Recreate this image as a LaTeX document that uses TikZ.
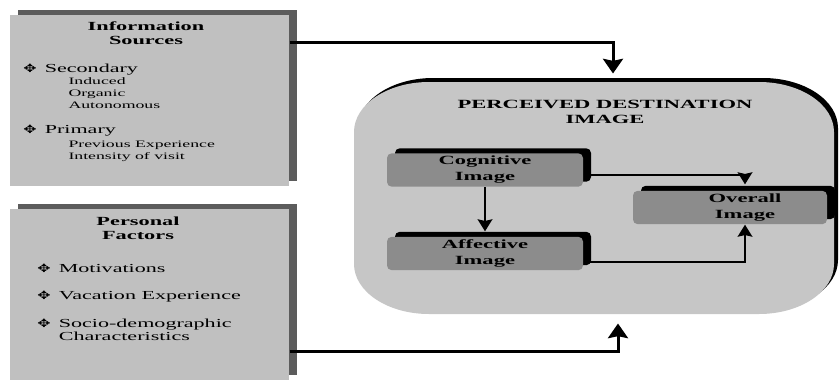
\documentclass[tikz,border=0pt]{standalone}
\usepackage{fontspec}
\setmainfont{Liberation Serif}[FakeStretch=1.8]
\newfontfamily\symfont{DejaVu Sans}[FakeStretch=1.4]
\usetikzlibrary{arrows.meta,shadows,calc}

\definecolor{boxgray}{RGB}{192,192,192}
\definecolor{framegray}{RGB}{92,92,92}
\definecolor{pdigray}{RGB}{198,198,198}
\definecolor{imggray}{RGB}{140,140,140}
\newcommand{\bul}{{\symfont\fontsize{8.5}{8.5}\selectfont ✥}\hspace{6pt}}

\tikzset{every picture/.style={line width=0.75pt}}

\begin{document}
\begin{tikzpicture}[x=0.75pt,y=0.75pt,yscale=-1,
	srcbox/.style={fill=boxgray, inner sep=0, minimum width=209.25pt, minimum height=128.25pt,
		drop shadow={shadow xshift=6pt, shadow yshift=3.75pt, opacity=1, fill=framegray}},
	imgbox/.style={fill=imggray, rounded corners=3.5pt, inner sep=0, minimum width=147pt, minimum height=25pt,
		align=center, font=\bfseries\fontsize{9.4}{12}\selectfont,
		drop shadow={shadow xshift=6pt, shadow yshift=3.75pt, opacity=1, fill=black}},
	head/.style={align=center, inner sep=0, font=\bfseries\fontsize{9.3}{10.5}\selectfont},
	item/.style={anchor=base west, inner sep=0, font=\fontsize{9.2}{9.75}\selectfont},
	subitem/.style={anchor=north west, align=left, inner sep=0, font=\fontsize{7.4}{9}\selectfont},
	bigarr/.style={line width=2.25pt, -{Stealth[width=15pt,length=11pt,inset=1.5pt]}},
	smallarr/.style={line width=1.5pt, -{Stealth[width=11pt,length=9pt,inset=1.2pt]}}]
	\useasboundingbox (0,0) rectangle (840,383);

	%Perceived destination image (rounded shape with dark edge)
	\foreach \dx/\dy/\col in {4/-4/black, 0/0/pdigray}
	\fill[\col, shift={(\dx,\dy)}] (429,82) -- (759,82) arc[start angle=-90, end angle=0, x radius=75, y radius=50] -- (834,264) arc[start angle=0, end angle=90, x radius=75, y radius=50] -- (429,314) arc[start angle=90, end angle=180, x radius=75, y radius=50] -- (354,132) arc[start angle=180, end angle=270, x radius=75, y radius=50] -- cycle ;
	\node[inner sep=0, minimum width=360pt, minimum height=174pt] (pdi) at (594,198) {};
	\node[head, font=\bfseries\fontsize{9.4}{11.25}\selectfont] (pditit) at (605,111.5) {PERCEIVED DESTINATION\\IMAGE};

	%Information sources
	\node[srcbox] (info) at (149.5,100.5) {};
	\node[head] (infohead) at (146,33.7) {Information\\Sources};
	\node[item] (sec) at (23,72) {\bul Secondary};
	\node[subitem] (secsub) at (68,77.3) {Induced\\Organic\\Autonomous};
	\node[item] (pri) at (23,133) {\bul Primary};
	\node[subitem] (prisub) at (68,140.3) {Previous Experience\\Intensity of visit};

	%Personal factors
	\node[srcbox] (pers) at (149.5,294) {};
	\node[head] (pershead) at (138,228.7) {Personal\\Factors};
	\node[item] (mot) at (37,272) {\bul Motivations};
	\node[item] (vac) at (37,299) {\bul Vacation Experience};
	\node[item] (soc) at (37,327) {\bul\begin{tabular}[t]{@{}l@{}}Socio-demographic\\Characteristics\end{tabular}};

	%Image components
	\node[imgbox] (cog) at (485,170) {Cognitive\\Image};
	\node[imgbox] (aff) at (485,253.5) {Affective\\Image};
	\node[imgbox, minimum width=145.5pt] (ovr) at (730,207.5) {\hspace*{22.5pt}\begin{tabular}{@{}c@{}}Overall\\Image\end{tabular}};

	%Arrows
	\draw[bigarr] (info.east |- 0,42) -| ($(pdi.north)+(19,-8)$);
	\draw[bigarr] (pers.east |- 0,351) -| ($(pdi.south)+(24,9)$);
	\draw[smallarr] (cog.south) -- ($(aff.north)+(0,-5)$);
	\draw[smallarr] ([yshift=3.75pt]cog.east) -| ($(ovr.north)+(15,-6)$);
	\draw[smallarr] ([yshift=6.4pt]aff.east) -| ($(ovr.south)+(15,0)$);

\end{tikzpicture}
\end{document}
